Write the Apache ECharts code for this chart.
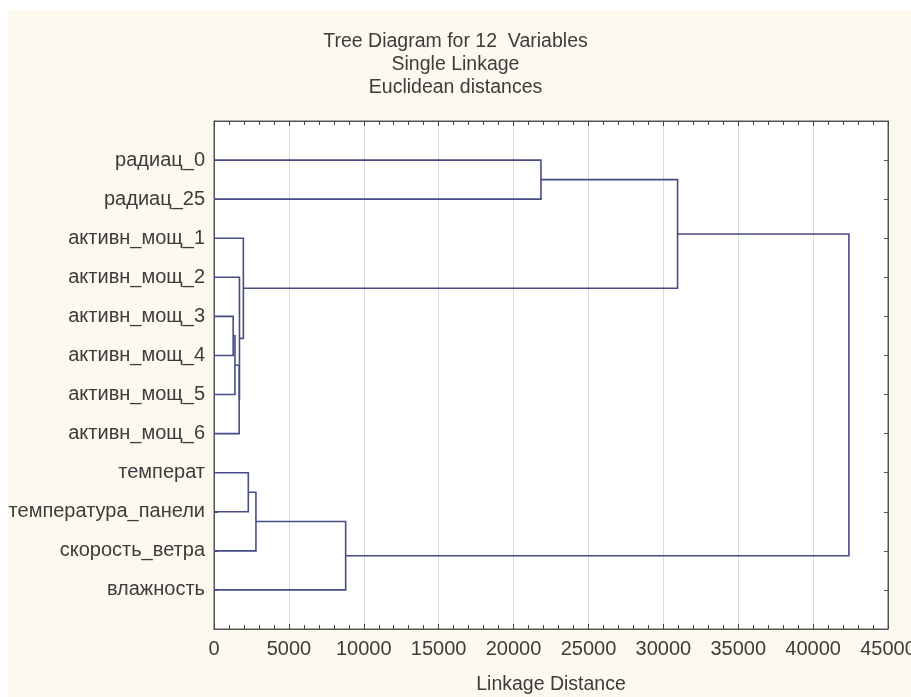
<!DOCTYPE html>
<html>
<head>
<meta charset="utf-8">
<script src="https://cdn.jsdelivr.net/npm/echarts@6/dist/echarts.min.js"></script>
<style>
  html, body { margin: 0; padding: 0; background: #ffffff; width: 911px; height: 697px; overflow: hidden; }
  #paper { position: absolute; left: 8px; top: 10px; width: 903px; height: 687px; background: #fdf9ef; }
  #chart { position: absolute; left: 0; top: 0; width: 911px; height: 697px; }
</style>
</head>
<body>
<div id="paper"></div>
<div id="chart"></div>
<script>
// Leaf variables, top to bottom
const labels = ['радиац_0', 'радиац_25', 'активн_мощ_1', 'активн_мощ_2', 'активн_мощ_3',
  'активн_мощ_4', 'активн_мощ_5', 'активн_мощ_6', 'температ', 'температура_панели',
  'скорость_ветра', 'влажность'];
// Linkage steps: node ids 0..11 are leaves, step k creates node 12+k
const mergeA = [4, 12, 13, 3, 2, 0, 17, 8, 19, 20, 18];
const mergeB = [5, 6, 7, 14, 15, 1, 16, 9, 10, 11, 21];
const mergeDist = [1280, 1400, 1680, 1700, 1960, 21830, 30950, 2290, 2800, 8790, 42390];
// Axis ticks
const xTickValues = [0, 5000, 10000, 15000, 20000, 25000, 30000, 35000, 40000, 45000];

const titleLines = ['Tree Diagram for 12  Variables', 'Single Linkage', 'Euclidean distances'];
const xAxisName = 'Linkage Distance';

// Build dendrogram geometry in data coordinates
const nodeY = labels.map((_, i) => i + 1);
const nodeH = labels.map(() => 0);
const segs = [];
mergeA.forEach((a, k) => {
  const b = mergeB[k], d = mergeDist[k];
  segs.push({ coords: [[nodeH[a], nodeY[a]], [d, nodeY[a]], [d, nodeY[b]], [nodeH[b], nodeY[b]]] });
  nodeY.push((nodeY[a] + nodeY[b]) / 2);
  nodeH.push(d);
});

const FONT = '"Liberation Sans", Arial, sans-serif';
const TXT = '#3c3c3c';
const AX = '#555555';
const xMin = xTickValues[0], xMax = xTickValues[xTickValues.length - 1];
const xStep = xTickValues[1] - xTickValues[0];
const chart = echarts.init(document.getElementById('chart'));
chart.setOption({
  backgroundColor: 'transparent',
  animation: false,
  title: {
    text: titleLines.join('\n'),
    left: 'center', top: 25,
    textStyle: { fontFamily: FONT, fontSize: 19.5, fontWeight: 'normal', color: TXT, lineHeight: 23 }
  },
  grid: { left: 214, right: 23, top: 121, bottom: 68, outerBoundsMode: 'none', containLabel: false,
          show: true, backgroundColor: '#ffffff', borderColor: AX, borderWidth: 1 },
  xAxis: [{
    type: 'value', min: xMin, max: xMax, interval: xStep,
    position: 'bottom',
    name: xAxisName, nameLocation: 'middle', nameGap: 46,
    nameTextStyle: { fontFamily: FONT, fontSize: 19.5, color: TXT },
    axisLine: { show: true, onZero: false, lineStyle: { color: AX, width: 1 } },
    axisTick: { show: true, inside: true, length: 5, lineStyle: { color: '#444' } },
    minorTick: { show: true, splitNumber: 5, length: 4, lineStyle: { color: '#444' } },
    axisLabel: { fontFamily: FONT, fontSize: 20, color: TXT, margin: 10, showMaxLabel: true, formatter: v => String(v) },
    splitLine: { show: true, lineStyle: { color: '#d9d9e4', width: 1 } }
  }, {
    type: 'value', min: xMin, max: xMax, interval: xStep,
    position: 'top',
    axisLine: { show: true, onZero: false, lineStyle: { color: AX, width: 1 } },
    axisTick: { show: true, inside: true, length: 5, lineStyle: { color: '#444' } },
    minorTick: { show: true, splitNumber: 5, length: 4, lineStyle: { color: '#444' } },
    axisLabel: { show: false },
    splitLine: { show: false }
  }],
  yAxis: [{
    type: 'value', min: 0, max: labels.length + 1, interval: 1, inverse: true,
    position: 'left',
    axisLine: { show: true, onZero: false, lineStyle: { color: AX, width: 1 } },
    axisTick: { show: true, inside: true, length: 4, lineStyle: { color: AX } },
    axisLabel: {
      fontFamily: FONT, fontSize: 20, color: TXT, margin: 9,
      formatter: v => (v >= 1 && v <= labels.length) ? labels[v - 1] : ''
    },
    splitLine: { show: false }
  }, {
    type: 'value', min: 0, max: labels.length + 1, interval: 1, inverse: true,
    position: 'right',
    axisLine: { show: true, onZero: false, lineStyle: { color: AX, width: 1 } },
    axisTick: { show: true, inside: true, length: 4, lineStyle: { color: AX } },
    axisLabel: { show: false },
    splitLine: { show: false }
  }],
  series: [{
    type: 'lines',
    coordinateSystem: 'cartesian2d',
    xAxisIndex: 0, yAxisIndex: 0,
    polyline: true,
    silent: true,
    lineStyle: { color: '#474b88', width: 1.6, opacity: 1 },
    data: segs
  }]
});
</script>
</body>
</html>
